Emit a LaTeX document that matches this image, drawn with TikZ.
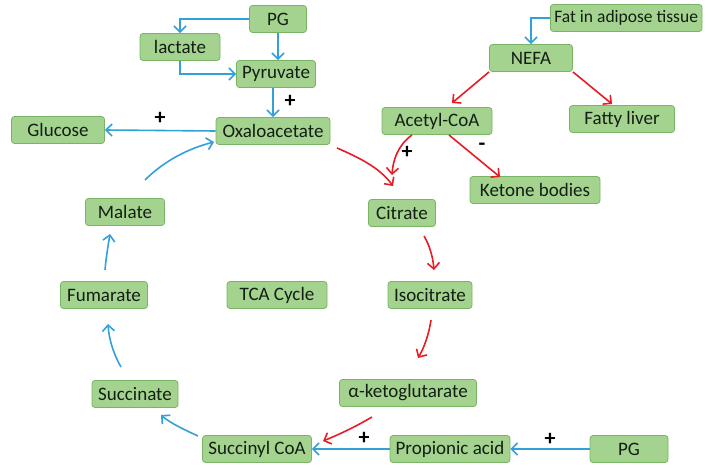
\documentclass[tikz,border=0pt]{standalone}
\usepackage{fontspec}
\setmainfont{Carlito}
\usetikzlibrary{arrows.meta}
\definecolor{boxfill}{RGB}{163,211,142}
\definecolor{boxdraw}{RGB}{120,180,100}
\definecolor{bluearr}{RGB}{52,160,218}
\definecolor{redarr}{RGB}{232,28,36}
\definecolor{txt}{RGB}{20,30,20}
\tikzset{
  box/.style={draw=boxdraw, fill=boxfill, rounded corners=3pt, line width=0.8pt,
    minimum height=27pt, inner xsep=4pt, inner ysep=2pt, text=txt, font=\fontsize{19}{20}\selectfont},
  barr/.style={draw=bluearr, line width=1.6pt, -{Straight Barb[length=6pt,width=12pt]}},
  rarr/.style={draw=redarr, line width=1.6pt, -{Straight Barb[length=6pt,width=12pt]}},
  sign/.style={font=\fontsize{22}{22}\bfseries\selectfont, text=black, inner sep=0pt}
}
\begin{document}
\begin{tikzpicture}[x=1pt,y=-1pt]
\useasboundingbox (0,0) rectangle (710,468);
\begin{scope}
\clip (0,0) rectangle (710,468);
\node[box, minimum width=57pt] (pg1) at (278,19) {PG};
\node[box, minimum width=80pt] (lac) at (180,47) {lactate};
\node[box, minimum width=79pt] (pyr) at (276,74) {Pyruvate};
\node[box, minimum width=114pt] (oxa) at (273,131) {Oxaloacetate};
\node[box, minimum width=93pt] (glu) at (58,130) {Glucose};
\node[box, anchor=west, font=\fontsize{17.5}{20}\selectfont] (fat) at (550,18) {Fat in adipose tissue\hspace{10pt}};
\node[box, minimum width=83pt] (nefa) at (531,58) {NEFA};
\node[box, minimum width=110pt] (acc) at (437,121) {Acetyl-CoA};
\node[box, minimum width=105pt] (fl) at (622,119) {Fatty liver};
\node[box, minimum width=130pt] (kb) at (535,190) {Ketone bodies};
\node[box, minimum width=67pt] (cit) at (402,213) {Citrate};
\node[box, minimum width=84pt] (iso) at (430,295) {Isocitrate};
\node[box, minimum width=137pt] (akg) at (408,393) {α-ketoglutarate};
\node[box, minimum width=109pt] (suc) at (257,449) {Succinyl CoA};
\node[box, minimum width=120pt] (pro) at (450,449) {Propionic acid};
\node[box, minimum width=78pt] (pg2) at (629,449) {PG};
\node[box, minimum width=86pt] (scn) at (135,394) {Succinate};
\node[box, minimum width=87pt] (fum) at (104,295) {Fumarate};
\node[box, minimum width=100pt] (tca) at (277,295) {TCA Cycle};
\node[box, minimum width=79pt] (mal) at (125,212) {Malate};
\end{scope}
% blue connectors
\draw[barr] (pg1.west) -| (lac.north);
\draw[barr] (pg1.south) -- (pyr.north -| pg1.south);
\draw[barr] (lac.south) |- (pyr.west);
\draw[barr] (pyr.south -| oxa.north) -- (oxa.north);
\node[sign] at (290,101) {+};
\draw[barr] (oxa.west) -- (glu.east);
\node[sign] at (160,118) {+};
\coordinate (m0) at (145,180);
\coordinate (m1) at (214,142);
\draw[barr] (m0) .. controls (165,160) and (190,148) .. (m1);
\draw[barr] (fat.west) -| (nefa.north);
\draw[barr] (pro.west) -- (suc.east);
\node[sign] at (364,438) {+};
\draw[barr] (pg2.west) -- (pro.east);
\node[sign] at (550,439) {+};
\coordinate (s0) at (198,436);
\coordinate (s1) at (161,415);
\draw[barr] (s0) .. controls (185,430) and (170,423) .. (s1);
\coordinate (u0) at (121,367);
\coordinate (u1) at (108,324);
\draw[barr] (u0) .. controls (114,355) and (109,340) .. (u1);
\coordinate (f0) at (105,270);
\coordinate (f1) at (110,234);
\draw[barr] (f0) .. controls (106,258) and (108,246) .. (f1);
% red connectors
\draw[rarr] (nefa.south west) -- (452,103);
\draw[rarr] (nefa.south east) -- (612,104);
\coordinate (c1) at (393,186);
\coordinate (c2) at (392,175);
\draw[rarr] (337,148) .. controls (360,158) and (380,168) .. (c1);
\draw[rarr] (412,135) .. controls (398,145) and (393,160) .. (c2);
\node[sign] at (407,152) {+};
\draw[rarr] (449,135) -- (500,177);
\node[sign] at (482,147) {-};
\coordinate (i0) at (424,236);
\coordinate (i1) at (434,270);
\draw[rarr] (i0) .. controls (430,246) and (433,258) .. (i1);
\coordinate (k0) at (431,320);
\coordinate (k1) at (418,358);
\draw[rarr] (k0) .. controls (429,334) and (424,348) .. (k1);
\coordinate (a0) at (372,417);
\coordinate (a1) at (323,441);
\draw[rarr] (a0) .. controls (355,427) and (338,435) .. (a1);
\end{tikzpicture}
\end{document}
